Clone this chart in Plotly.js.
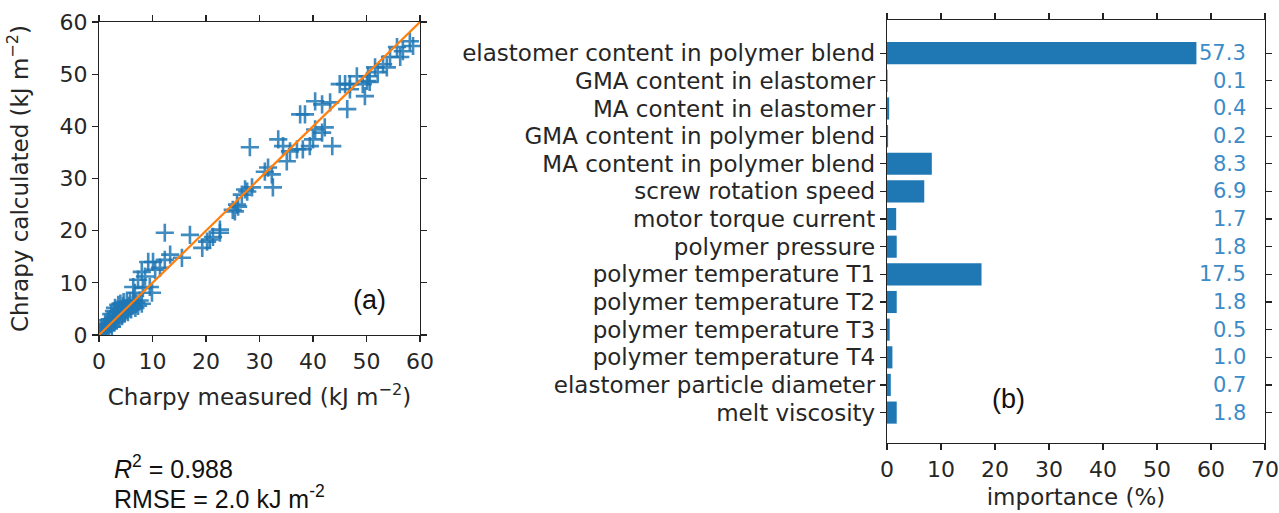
<!DOCTYPE html>
<html>
<head>
<meta charset="utf-8">
<script src="https://cdn.plot.ly/plotly-3.0.1.min.js"></script>
<style>html,body{margin:0;padding:0;background:#fff;}#chart{width:1279px;height:513px;}</style>
</head>
<body>
<div id="chart"></div>
<script>
// ---- Panel (a): measured vs calculated Charpy impact strength (kJ m^-2)
const measured = [
  0.3,0.5,0.8,1.0,1.2,1.3,1.5,1.6,1.8,2.0,2.1,2.3,2.4,2.6,2.8,2.9,3.0,3.2,3.3,3.5,3.6,3.8,4.0,4.1,4.3,4.5,4.6,4.8,5.0,5.2,5.4,5.6,5.8,6.0,6.3,6.5,6.8,7.0,7.3,7.6,8.0,
  6.4,6.7,7.3,8.0,8.2,8.6,9.2,9.5,9.9,10.1,10.5,11.4,12.3,12.3,13.3,15.5,17.0,19.3,20.2,20.7,21.3,22.6,22.6,
  25.0,25.4,25.8,26.0,26.7,27.3,27.7,28.2,28.6,31.0,31.6,32.3,32.5,33.5,34.4,35.1,35.7,37.0,37.6,38.1,38.5,39.4,40.0,40.4,40.4,
  41.7,41.7,42.2,43.2,43.6,45.0,46.0,46.4,46.9,46.9,48.2,49.3,49.7,50.1,50.3,50.6,51.6,52.1,53.1,53.8,54.4,55.7,56.3,56.8,58.1,58.7
];
const calculated = [
  0.5,1.0,0.6,1.5,2.2,0.9,1.8,2.8,1.3,3.0,2.2,4.0,1.6,3.3,4.6,2.4,5.2,3.6,2.8,4.4,5.8,3.2,6.0,4.8,3.6,5.5,6.3,4.1,5.0,6.2,4.4,5.6,6.5,4.9,5.8,6.6,5.2,6.2,5.6,6.6,6.0,
  9.2,8.1,10.6,12.1,9.0,11.2,14.0,9.2,8.1,14.0,12.5,12.9,14.4,19.6,15.4,14.8,19.2,16.7,17.9,18.3,18.8,19.6,20.2,
  24.0,23.7,25.0,24.6,26.9,27.9,27.5,36.0,28.3,31.3,32.1,30.8,28.3,37.5,36.2,33.3,35.2,35.6,42.3,35.6,42.3,36.2,37.5,44.8,39.4,
  44.2,38.8,39.8,44.6,36.2,48.1,48.1,43.3,48.1,47.1,49.6,48.1,45.8,48.7,49.6,48.5,51.3,50.4,51.9,51.3,53.3,55.2,53.3,54.4,56.3,55.4
];
const identityLine = [0, 60];
const r2Text = "<i>R</i><sup>2</sup> = 0.988";
const rmseText = "RMSE = 2.0 kJ m<sup>-2</sup>";

// ---- Panel (b): feature importance (%)
const features = [
  "elastomer content in polymer blend",
  "GMA content in elastomer",
  "MA content in elastomer",
  "GMA content in polymer blend",
  "MA content in polymer blend",
  "screw rotation speed",
  "motor torque current",
  "polymer pressure",
  "polymer temperature T1",
  "polymer temperature T2",
  "polymer temperature T3",
  "polymer temperature T4",
  "elastomer particle diameter",
  "melt viscosity"
];
const importance = [57.3, 0.1, 0.4, 0.2, 8.3, 6.9, 1.7, 1.8, 17.5, 1.8, 0.5, 1.0, 0.7, 1.8];
const importanceTicks = [0, 10, 20, 30, 40, 50, 60, 70];

const W = 1279, H = 513;
const blue = "#1f77b4", orange = "#ff7f0e";
const mpl = "DejaVu Sans, sans-serif";
const arial = "Liberation Sans, Arial, sans-serif";
const txt = "#262626";

const traces = [
  {
    x: measured, y: calculated, type: "scatter", mode: "markers",
    xaxis: "x", yaxis: "y",
    marker: {symbol: "cross-thin", size: 13, color: blue, opacity: 0.85, line: {color: blue, width: 2.6}},
    hoverinfo: "x+y"
  },
  {
    x: identityLine, y: identityLine, type: "scatter", mode: "lines",
    xaxis: "x", yaxis: "y",
    line: {color: orange, width: 2.2}
  },
  {
    x: importance, y: features, type: "bar", orientation: "h",
    xaxis: "x2", yaxis: "y2",
    marker: {color: blue, line: {width: 0}},
    width: 0.8
  }
];

const annotations = features.map((f, i) => ({
  x: 66.8, y: f, xref: "x2", yref: "y2", xanchor: "right", yanchor: "middle",
  text: importance[i].toFixed(1), showarrow: false,
  font: {family: mpl, size: 21, color: "#3d8bc7"}
}));
annotations.push(
  {x: 369/W, y: 1 - 300/H, xref: "paper", yref: "paper", xanchor: "center", yanchor: "middle",
   text: "(a)", showarrow: false, font: {family: arial, size: 27, color: "#111"}},
  {x: 1008/W, y: 1 - 399/H, xref: "paper", yref: "paper", xanchor: "center", yanchor: "middle",
   text: "(b)", showarrow: false, font: {family: arial, size: 27, color: "#111"}},
  {x: 112/W, y: 1 - 467/H, xref: "paper", yref: "paper", xanchor: "left", yanchor: "middle",
   text: r2Text, showarrow: false, font: {family: arial, size: 25, color: "#111"}},
  {x: 112/W, y: 1 - 497/H, xref: "paper", yref: "paper", xanchor: "left", yanchor: "middle",
   text: rmseText, showarrow: false, font: {family: arial, size: 25, color: "#111"}}
);

const axCommon = {
  showline: true, linecolor: "#222", linewidth: 1.2, mirror: "ticks",
  ticks: "outside", ticklen: 6, tickwidth: 1.2, tickcolor: "#222",
  showgrid: false, zeroline: false,
  tickfont: {family: mpl, size: 22, color: txt}
};

const layout = {
  width: W, height: H,
  margin: {l: 0, r: 0, t: 0, b: 0},
  paper_bgcolor: "#fff", plot_bgcolor: "#fff",
  showlegend: false,
  xaxis: Object.assign({}, axCommon, {
    domain: [99/W, 420/W], range: [0, 60], dtick: 10, anchor: "y",
    title: {text: "Charpy measured (kJ m<sup>\u22122</sup>)", font: {family: mpl, size: 23, color: txt}, standoff: 16}
  }),
  yaxis: Object.assign({}, axCommon, {
    domain: [1 - 335/H, 1 - 22/H], range: [0, 60], dtick: 10, anchor: "x",
    title: {text: "Chrapy calculated (kJ m<sup>\u22122</sup>)", font: {family: mpl, size: 23, color: txt}, standoff: 24}
  }),
  xaxis2: Object.assign({}, axCommon, {
    domain: [887/W, 1265/W], range: [0, 70], tickvals: importanceTicks, anchor: "y2",
    title: {text: "importance (%)", font: {family: mpl, size: 23, color: txt}, standoff: 8}
  }),
  yaxis2: Object.assign({}, axCommon, {
    domain: [1 - 443/H, 1 - 20/H], type: "category", range: [14.1, -1.2], anchor: "x2",
    tickmode: "array", tickvals: features, ticktext: features,
    tickfont: {family: mpl, size: 23, color: txt}
  }),
  annotations: annotations
};

Plotly.newPlot("chart", traces, layout, {staticPlot: true, displayModeBar: false});
</script>
</body>
</html>
